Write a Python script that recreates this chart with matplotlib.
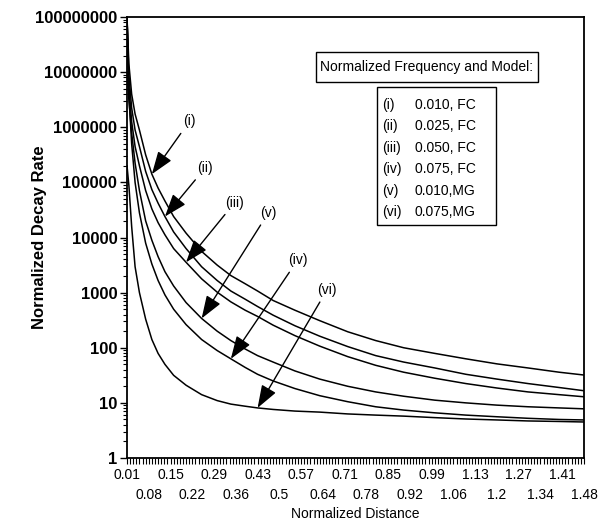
import numpy as np
import matplotlib.pyplot as plt
from matplotlib.ticker import FixedLocator, MultipleLocator, LogLocator, NullFormatter, FuncFormatter
from matplotlib.patches import Rectangle

plt.rcParams['font.family'] = ['Liberation Sans', 'DejaVu Sans']

# normalized distance samples
distance = [0.01, 0.016, 0.025, 0.036, 0.05, 0.07, 0.09, 0.11, 0.132, 0.16, 0.2, 0.25, 0.3, 0.344,
            0.39, 0.43, 0.48, 0.55, 0.63, 0.72, 0.81, 0.9, 1.0, 1.1, 1.2, 1.3, 1.4, 1.48]

# normalized decay rate for each frequency / model
fc_010 = [1e8, 1.41e7, 3.98e6, 1.74e6, 8.9e5, 3.16e5, 1.41e5, 7.9e4, 4.6e4, 2.4e4, 1.2e4, 5600, 3160, 2040,
          1450, 1070, 720, 480, 310, 195, 135, 100, 79, 63, 51, 43, 36, 32]
fc_025 = [1e8, 8.9e6, 2.24e6, 8.9e5, 4.47e5, 1.58e5, 7.4e4, 4.2e4, 2.4e4, 1.26e4, 6300, 2950, 1660, 1070,
          760, 560, 390, 251, 162, 105, 72, 55, 43, 33, 27, 22.4, 19, 16.6]
fc_050 = [1e8, 5.6e6, 1.26e6, 4.47e5, 2.0e5, 7.1e4, 3.3e4, 1.86e4, 1.12e4, 6300, 3550, 1780, 1020, 680,
          480, 370, 257, 166, 107, 69, 48, 36, 28, 22.4, 18.6, 15.8, 14.1, 12.9]
fc_075 = [1e8, 3.98e6, 5.0e5, 1.0e5, 2.8e4, 7900, 3300, 1660, 910, 500, 263, 141, 89, 63,
          44, 33, 25, 18.2, 13.5, 10.5, 8.5, 7.4, 6.6, 6.0, 5.6, 5.25, 5.0, 4.9]
mg_010 = [1e7, 3.16e6, 7.9e5, 2.24e5, 7.1e4, 2.0e4, 8900, 4500, 2400, 1320, 660, 340, 200, 135,
          95, 72, 55, 38, 27, 20, 15.8, 13.2, 11.2, 10, 9.1, 8.5, 8.1, 7.8]
mg_075 = [2.0e5, 8.9e4, 1.58e4, 2950, 1000, 330, 141, 79, 50, 31.6, 20.9, 14.1, 11, 9.5,
          8.7, 8.1, 7.6, 7.1, 6.8, 6.3, 6.0, 5.75, 5.4, 5.1, 4.9, 4.7, 4.6, 4.5]

series = [fc_010, fc_025, fc_050, fc_075, mg_010, mg_075]
series_labels = ["(i)", "(ii)", "(iii)", "(iv)", "(v)", "(vi)"]
legend_values = ["0.010, FC", "0.025, FC", "0.050, FC", "0.075, FC", "0.010,MG", "0.075,MG"]
# where each arrow lands on its curve
arrow_x = [0.09, 0.132, 0.2, 0.344, 0.25, 0.43]

x_tick_values = [0.01, 0.08, 0.15, 0.22, 0.29, 0.36, 0.43, 0.5, 0.57, 0.64, 0.71, 0.78,
                 0.85, 0.92, 0.99, 1.06, 1.13, 1.2, 1.27, 1.34, 1.41, 1.48]
x_tick_labels = ["0.01", "0.08", "0.15", "0.22", "0.29", "0.36", "0.43", "0.5", "0.57", "0.64", "0.71",
                 "0.78", "0.85", "0.92", "0.99", "1.06", "1.13", "1.2", "1.27", "1.34", "1.41", "1.48"]

fig = plt.figure(figsize=(5.99, 5.32), dpi=100)
ax = fig.add_axes([127 / 599, 1 - 458 / 532, 457 / 599, 441 / 532])

for vals in series:
    ax.plot(distance, vals, color='black', lw=1.1)

ax.set_yscale('log')
ax.set_ylim(1, 1e8)
ax.set_xlim(0.01, 1.48)

ax.yaxis.set_major_locator(FixedLocator([10.0 ** k for k in range(9)]))
ax.yaxis.set_major_formatter(FuncFormatter(lambda v, p: f"{v:.0f}"))
ax.yaxis.set_minor_locator(LogLocator(base=10, subs=np.arange(2, 10), numticks=20))
ax.yaxis.set_minor_formatter(NullFormatter())

# two staggered rows of x labels
ax.set_xticks(x_tick_values[0::2], x_tick_labels[0::2])
ax.xaxis.set_minor_locator(MultipleLocator(0.01))
ax.tick_params(axis='x', which='both', direction='out', length=4, width=0.8, labelsize=10, pad=3.5)

sec = ax.secondary_xaxis('bottom')
sec.set_xticks(x_tick_values[1::2], x_tick_labels[1::2])
sec.tick_params(axis='x', length=0, labelsize=10, pad=21.5)
sec.spines['bottom'].set_visible(False)

ax.tick_params(axis='y', which='major', direction='out', length=5, width=1, labelsize=12, pad=2)
ax.tick_params(axis='y', which='minor', direction='out', length=3, width=0.8)
for t in ax.get_yticklabels():
    t.set_fontweight('bold')

for sp in ax.spines.values():
    sp.set_linewidth(1.3)

ax.set_ylabel("Normalized Decay Rate", fontsize=12, fontweight='bold')
ax.yaxis.set_label_coords(-0.175, 0.5)
ax.text(0.5, -0.111, "Normalized Distance", transform=ax.transAxes,
        ha='center', va='top', fontsize=10)

# arrow annotations (label offsets in points from the arrow tip)
offsets = [(27, 38), (29, 35), (35, 43), (48, 71), (48, 76), (50, 85)]
for vals, lbl, xa, off in zip(series, series_labels, arrow_x, offsets):
    ya = vals[distance.index(xa)]
    ax.annotate(lbl, xy=(xa, ya), xytext=off, textcoords='offset points',
                ha='center', va='center', fontsize=10,
                arrowprops=dict(arrowstyle='-|>,head_length=0.7,head_width=0.25',
                                color='black', lw=1.0, mutation_scale=20,
                                shrinkA=2, shrinkB=0))

# legend boxes
ax.add_patch(Rectangle((0.4136, 0.8526), 0.4854, 0.068, transform=ax.transAxes,
                       fill=False, edgecolor='black', lw=1.0))
ax.text(0.4223, 0.8866, "Normalized Frequency and Model:", transform=ax.transAxes,
        ha='left', va='center', fontsize=10)
ax.add_patch(Rectangle((0.547, 0.5283), 0.2604, 0.313, transform=ax.transAxes,
                       fill=False, edgecolor='black', lw=1.0))
for i, (lbl, val) in enumerate(zip(series_labels, legend_values)):
    yy = 0.8005 - i * 0.0485
    ax.text(0.558, yy, lbl, transform=ax.transAxes, ha='left', va='center', fontsize=10)
    ax.text(0.630, yy, val, transform=ax.transAxes, ha='left', va='center', fontsize=10)

fig.savefig("out.png", dpi=100)
